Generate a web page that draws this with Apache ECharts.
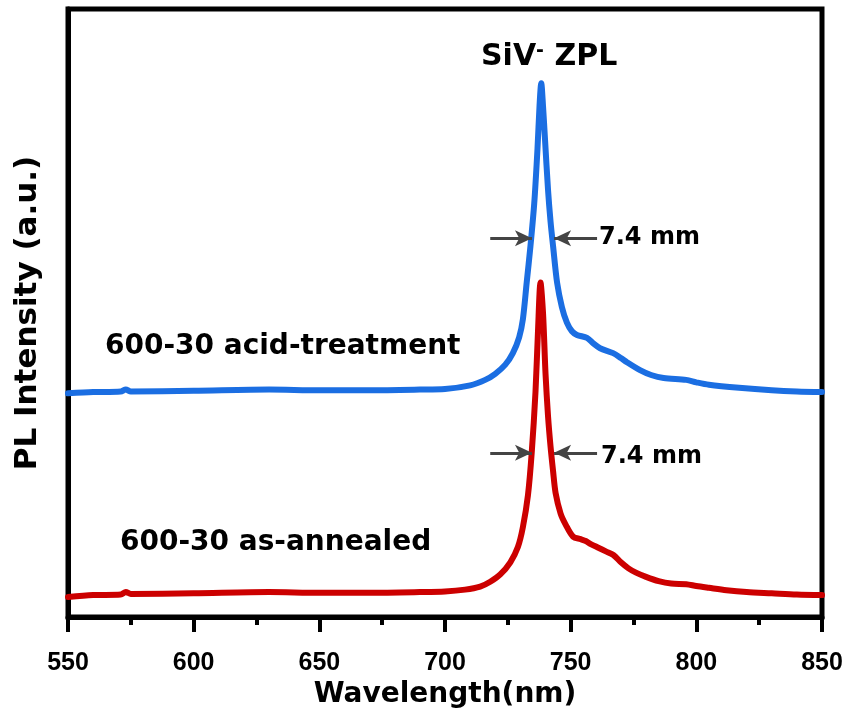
<!DOCTYPE html>
<html>
<head>
<meta charset="utf-8">
<title>PL spectra</title>
<script src="https://cdn.jsdelivr.net/npm/echarts@6/dist/echarts.min.js"></script>
<style>
  html, body { margin: 0; padding: 0; background: #fff; }
  #chart { width: 848px; height: 718px; }
</style>
</head>
<body>
<div id="chart"></div>
<script>
  // wavelength (nm) / intensity (a.u., offset)
  var acidWl = [550, 560, 571, 573, 575, 600, 630, 650, 670, 690, 700, 710, 716, 720, 724, 727, 729.5, 731, 732.5, 734, 735.5, 736.8, 737.6, 738.3, 739, 739.8, 741, 742, 743, 744.6, 746.5, 748.5, 750.5, 752.5, 756.5, 759, 761.7, 766.9, 770, 772.4, 777.6, 782, 787, 796, 800, 805, 817, 830, 840, 850];
  var acidPL = [36.8, 37.0, 37.1, 37.4, 37.1, 37.2, 37.4, 37.3, 37.3, 37.4, 37.5, 38.1, 39.0, 40.0, 41.5, 43.4, 46, 49, 55, 61, 68, 77, 84, 87.8, 84, 78.5, 70.2, 65, 61, 55, 51, 48.4, 47, 46.4, 45.9, 45, 44.2, 43.4, 42.6, 41.9, 40.6, 39.8, 39.3, 39.0, 38.6, 38.2, 37.7, 37.3, 37.1, 37.0];

  var annWl = [550, 560, 571, 573, 575, 600, 630, 650, 670, 690, 700, 708, 714, 718, 722, 726, 729, 731, 733, 734.5, 736, 737, 738, 739, 740, 741, 742, 743, 744, 746, 748, 751, 754, 756, 758, 761, 764, 767, 770, 773, 776, 780, 785, 790, 796, 800, 805, 812, 820, 830, 840, 850];
  var annPL = [3.3, 3.6, 3.7, 4.1, 3.8, 3.9, 4.1, 4.0, 4.0, 4.1, 4.2, 4.5, 5.0, 5.8, 7.0, 9.0, 11.5, 14.8, 20, 27, 37, 47, 55, 50, 40, 33, 28, 24, 20.4, 17, 15.2, 13.2, 12.8, 12.5, 12, 11.4, 10.8, 10.2, 9, 8, 7.3, 6.6, 5.9, 5.5, 5.4, 5.1, 4.8, 4.4, 4.1, 3.9, 3.7, 3.6];

  var xTicks = [550, 600, 650, 700, 750, 800, 850];

  // FWHM arrows: [left start, left tip, right tip, right start], y level
  var fwhmX = [718, 734.6, 743.4, 760.5];
  var fwhmAcidY = 62.3;
  var fwhmAnnY = 27.0;

  function pairs(xs, ys) {
    return xs.map(function (x, i) { return [x, ys[i]]; });
  }

  function fwhm(y, color) {
    return {
      silent: true,
      symbol: ['none', 'arrow'],
      symbolSize: [12, 17],
      lineStyle: { color: color, width: 3, type: 'solid' },
      label: { show: false },
      data: [
        [{ coord: [fwhmX[0], y] }, { coord: [fwhmX[1], y] }],
        [{ coord: [fwhmX[3], y] }, { coord: [fwhmX[2], y] }]
      ]
    };
  }

  function note(y, dist) {
    return {
      silent: true,
      symbol: 'circle', symbolSize: 0,
      label: {
        show: true, position: 'right', distance: dist,
        fontFamily: 'DejaVu Sans', fontWeight: 'bold', fontSize: 24, color: '#000',
        formatter: '7.4 mm'
      },
      data: [{ coord: [fwhmX[3], y] }]
    };
  }

  var chart = echarts.init(document.getElementById('chart'));

  var option = {
    animation: false,
    grid: {
      left: 68, right: 26, top: 9, bottom: 101,
      show: true, borderWidth: 5, borderColor: '#000'
    },
    xAxis: {
      type: 'value',
      min: 550, max: 850, interval: 50,
      name: 'Wavelength(nm)',
      nameLocation: 'middle',
      nameGap: 63,
      nameTextStyle: { fontFamily: 'DejaVu Sans', fontWeight: 'bold', fontSize: 28, color: '#000' },
      axisLine: { lineStyle: { color: '#000', width: 5 } },
      axisTick: { show: true, inside: false, length: 15, lineStyle: { color: '#000', width: 4 } },
      minorTick: { show: true, splitNumber: 2, length: 8, lineStyle: { color: '#000', width: 4 } },
      axisLabel: {
        margin: 34, fontFamily: 'Liberation Sans', fontWeight: 'bold', fontSize: 25, color: '#000',
        formatter: function (v) { return xTicks.indexOf(v) >= 0 ? String(v) : ''; }
      },
      splitLine: { show: false }
    },
    yAxis: {
      type: 'value',
      min: 0, max: 100,
      name: 'PL Intensity (a.u.)',
      nameLocation: 'middle',
      nameGap: 25,
      nameTextStyle: { fontFamily: 'DejaVu Sans', fontWeight: 'bold', fontSize: 31, color: '#000' },
      axisLine: { show: true, lineStyle: { color: '#000', width: 5 } },
      axisTick: { show: false },
      axisLabel: { show: false },
      splitLine: { show: false }
    },
    series: [
      {
        name: '600-30 acid-treatment',
        type: 'line',
        data: pairs(acidWl, acidPL),
        showSymbol: false,
        smooth: 0.3,
        lineStyle: { color: '#1b6ee2', width: 6, join: 'round', cap: 'round' },
        itemStyle: { color: '#1b6ee2' },
        markLine: fwhm(fwhmAcidY, '#444'),
        markPoint: note(fwhmAcidY, 2)
      },
      {
        name: '600-30 as-annealed',
        type: 'line',
        data: pairs(annWl, annPL),
        showSymbol: false,
        smooth: 0.3,
        lineStyle: { color: '#cc0000', width: 6, join: 'round', cap: 'round' },
        itemStyle: { color: '#cc0000' },
        markLine: fwhm(fwhmAnnY, '#444'),
        markPoint: note(fwhmAnnY - 0.6, 4)
      }
    ],
    graphic: [
      {
        type: 'text', left: 105, top: 333,
        style: { text: '600-30 acid-treatment', font: 'bold 28px "DejaVu Sans"', fill: '#000' }
      },
      {
        type: 'text', left: 120, top: 529,
        style: { text: '600-30 as-annealed', font: 'bold 28px "DejaVu Sans"', fill: '#000' }
      },
      {
        type: 'text', left: 481, top: 42,
        style: {
          text: '{a|SiV}{b|-}{a| ZPL}',
          rich: {
            a: { fontFamily: 'DejaVu Sans', fontWeight: 'bold', fontSize: 30, color: '#000' },
            b: { fontFamily: 'DejaVu Sans', fontWeight: 'bold', fontSize: 19, color: '#000', verticalAlign: 'top', padding: [0, 0, 12, 0] }
          }
        }
      }
    ]
  };

  chart.setOption(option);
</script>
</body>
</html>
